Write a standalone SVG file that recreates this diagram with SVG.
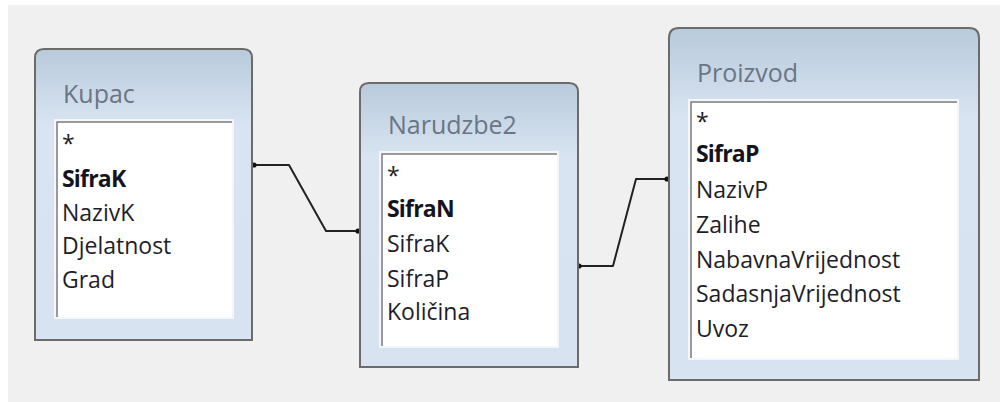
<svg xmlns="http://www.w3.org/2000/svg" width="1003" height="402" viewBox="0 0 1003 402">
  <style>
    .box { stroke: #6b6b6b; stroke-width: 2; fill: url(#hdr); }
    .margin { fill: #f3f6fa; }
    .list { fill: #ffffff; }
    .inset { fill: none; stroke: #7a7a7a; stroke-width: 1.5; }
    .title { font-family: "Open Sans", "Liberation Sans", sans-serif; font-size: 25px; fill: #6a7586; }
    .f { font-family: "Open Sans", "Liberation Sans", sans-serif; font-size: 23px; fill: #1e1e2a; }
    .k { font-weight: bold; fill: #141420; letter-spacing: -0.8px; }
    .conn { fill: none; stroke: #222; stroke-width: 2; stroke-linejoin: round; }
  </style>
  <defs>
    <linearGradient id="hdr" x1="0" y1="0" x2="0" y2="1">
      <stop offset="0" stop-color="#b9cadb"/>
      <stop offset="0.26" stop-color="#d8e4f1"/>
      <stop offset="1" stop-color="#d7e3f1"/>
    </linearGradient>
    <marker id="dot" viewBox="0 0 6 6" refX="3" refY="3" markerWidth="6" markerHeight="6" markerUnits="userSpaceOnUse">
      <circle cx="3" cy="3" r="2.6" fill="#111"/>
    </marker>
  </defs>
  <rect x="0" y="0" width="1003" height="402" fill="#ffffff"/>
  <rect x="8" y="5" width="992" height="397" fill="#f0f0f0"/>

  <g id="connectors">
    <path class="conn" d="M254,165 H289 L326,231 H358" marker-start="url(#dot)" marker-end="url(#dot)"/>
    <path class="conn" d="M579,266 H613 L636,179 H667" marker-start="url(#dot)" marker-end="url(#dot)"/>
  </g>

  <g id="kupac">
    <path class="box" d="M35,340 V58 Q35,49 44,49 H243 Q252,49 252,58 V340 Z"/>
    <text class="title" x="63" y="103">Kupac</text>
    <rect class="margin" x="54" y="119" width="180" height="200"/>
    <rect class="list" x="56" y="121" width="176" height="196"/>
    <path class="inset" d="M57,317 V122 H232"/>
    <text class="f" x="62" y="152">*</text>
    <text class="f k" x="62" y="187">SifraK</text>
    <text class="f" x="62" y="221">NazivK</text>
    <text class="f" x="62" y="254">Djelatnost</text>
    <text class="f" x="62" y="288">Grad</text>
  </g>

  <g id="narudzbe2">
    <path class="box" d="M360,367 V92 Q360,83 369,83 H569 Q578,83 578,92 V367 Z"/>
    <text class="title" x="388" y="134">Narudzbe2</text>
    <rect class="margin" x="379" y="151" width="180" height="197"/>
    <rect class="list" x="381" y="153" width="176" height="193"/>
    <path class="inset" d="M382,346 V154 H557"/>
    <text class="f" x="387" y="184">*</text>
    <text class="f k" x="387" y="217">SifraN</text>
    <text class="f" x="387" y="252">SifraK</text>
    <text class="f" x="387" y="287">SifraP</text>
    <text class="f" x="387" y="320">Količina</text>
  </g>

  <g id="proizvod">
    <path class="box" d="M669,380 V38 Q669,28 679,28 H969 Q979,28 979,38 V380 Z"/>
    <text class="title" x="697" y="82">Proizvod</text>
    <rect class="margin" x="688" y="99" width="271" height="261"/>
    <rect class="list" x="690" y="101" width="267" height="257"/>
    <path class="inset" d="M691,358 V102 H957"/>
    <text class="f" x="696" y="130">*</text>
    <text class="f k" x="696" y="162">SifraP</text>
    <text class="f" x="696" y="198">NazivP</text>
    <text class="f" x="696" y="233">Zalihe</text>
    <text class="f" x="696" y="268">NabavnaVrijednost</text>
    <text class="f" x="696" y="302">SadasnjaVrijednost</text>
    <text class="f" x="696" y="337">Uvoz</text>
  </g>
</svg>
